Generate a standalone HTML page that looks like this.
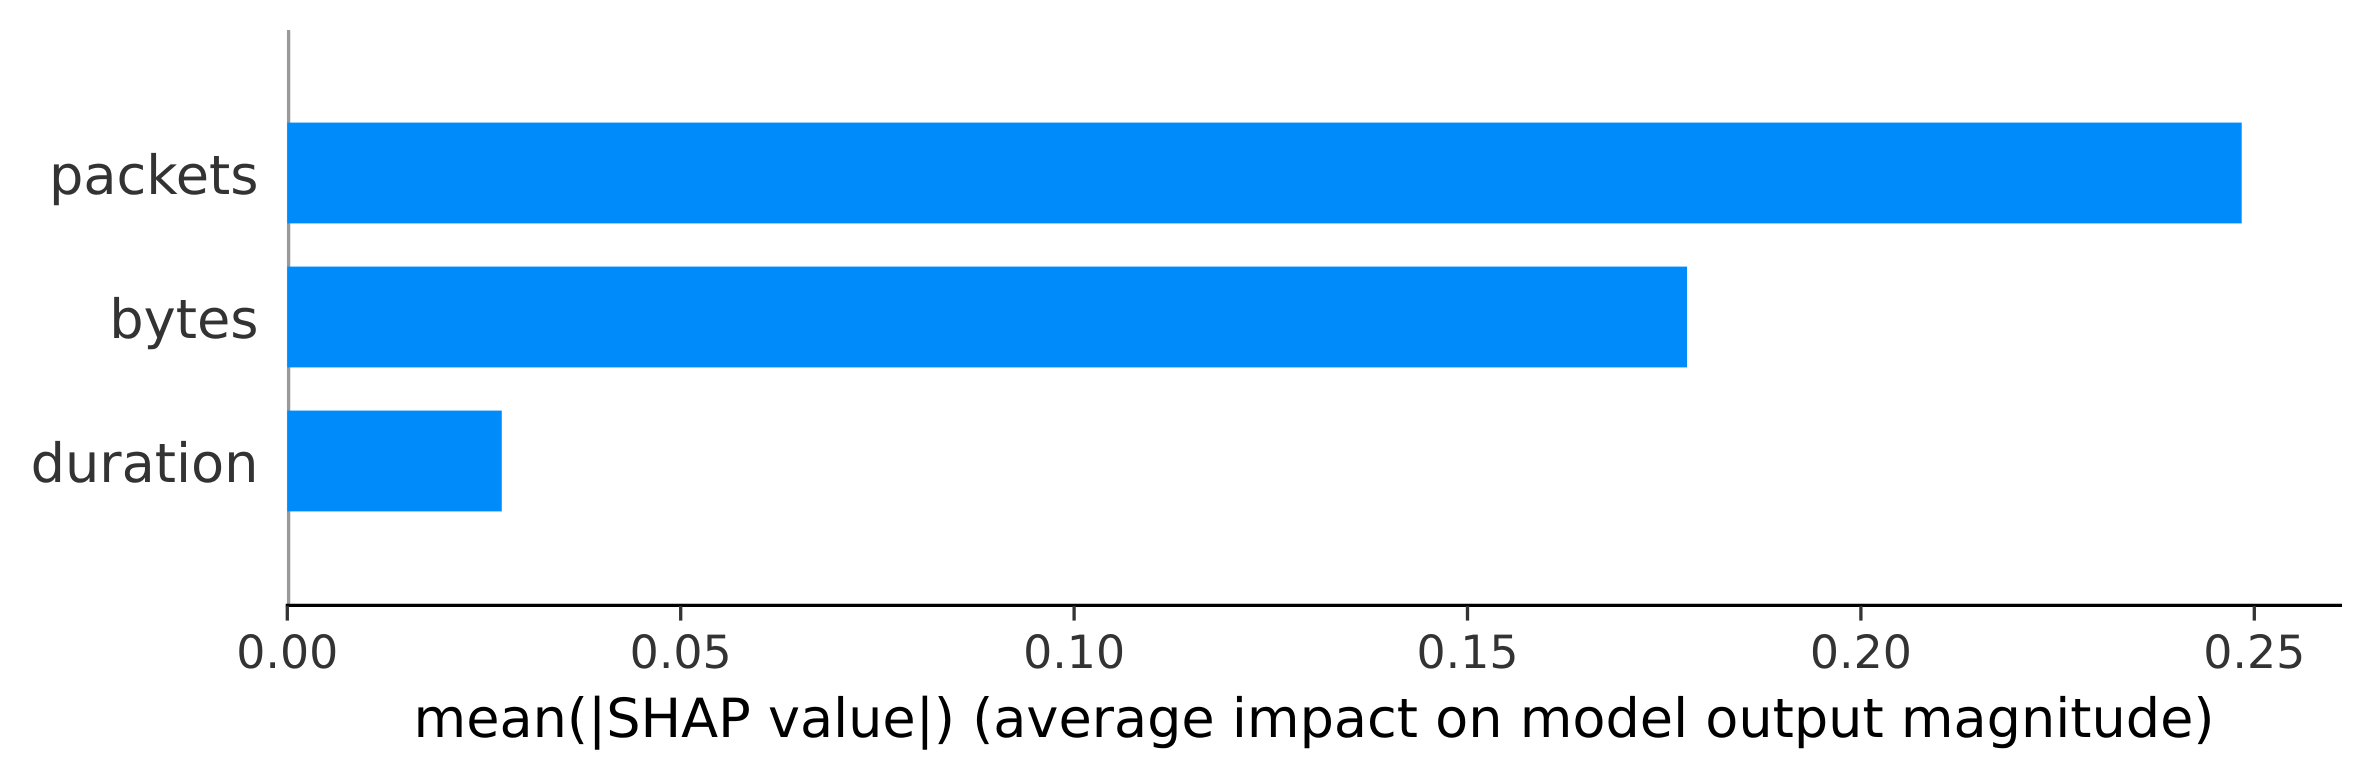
<!DOCTYPE html>
<html lang="en">
<head>
<meta charset="utf-8">
<title>SHAP feature importance</title>
<style>
html,body{margin:0;padding:0;background:#fff;width:2370px;height:779px;overflow:hidden}
svg{display:block}
text{font-family:"DejaVu Sans","Liberation Sans",sans-serif;text-rendering:geometricPrecision}
</style>
</head>
<body>
<svg id="chart" xmlns="http://www.w3.org/2000/svg" width="2370" height="779" viewBox="0 0 2370 779">
  <rect x="0" y="0" width="2370" height="779" fill="#ffffff"/>
  <g id="marks"></g>
  <text x="1314" y="737" text-anchor="middle" font-size="54.08" fill="#000000">mean(|SHAP value|) (average impact on model output magnitude)</text>
</svg>
<script>
const categories = ['packets', 'bytes', 'duration'];
const meanShapValues = [0.2484, 0.1779, 0.02726];
const xTickValues = [0, 0.05, 0.1, 0.15, 0.2, 0.25];
const xTickLabels = ['0.00', '0.05', '0.10', '0.15', '0.20', '0.25'];

const NS = 'http://www.w3.org/2000/svg';
const root = document.getElementById('marks');
const xScale = v => 287.3 + v * (2254.3 - 287.3) / 0.25;
const yScale = p => 605 - p * 144;
const BAR_THICKNESS = 0.7;
const AXIS_RIGHT = 2342;

function make(tag, props, text) {
  const el = document.createElementNS(NS, tag);
  Object.keys(props).forEach(k => el.setAttribute(k, props[k]));
  if (text !== undefined) el.textContent = text;
  root.appendChild(el);
  return el;
}

const zeroLine = make('line', {x1: xScale(0) + 1.3, x2: xScale(0) + 1.3, y1: 30, y2: 604, stroke: '#999999', 'stroke-width': 3.3});



categories.forEach((name, i) => {
  const pos = categories.length - i;
  const top = yScale(pos + BAR_THICKNESS / 2);
  const bottom = yScale(pos - BAR_THICKNESS / 2);
  const bar = make('rect', {x: xScale(0), y: top, width: xScale(meanShapValues[i]) - xScale(0), height: bottom - top, fill: '#008bfb'});
  
  
  const label = make('text', {x: 258.5, y: yScale(pos) + 21, 'text-anchor': 'end', 'font-size': 54.17, fill: '#333333'}, name);
  
  
});

const axisLine = make('line', {x1: xScale(0) - 1.6, x2: AXIS_RIGHT, y1: 605.4, y2: 605.4, stroke: '#000000', 'stroke-width': 3.3});



xTickValues.forEach((v, i) => {
  const tick = make('line', {x1: xScale(v), x2: xScale(v), y1: 606, y2: 620.6, stroke: '#333333', 'stroke-width': 3.3});
  
  
  const label = make('text', {x: xScale(v), y: 668, 'text-anchor': 'middle', 'font-size': 45.83, fill: '#333333'}, xTickLabels[i]);
  
  
});
</script>
</body>
</html>
